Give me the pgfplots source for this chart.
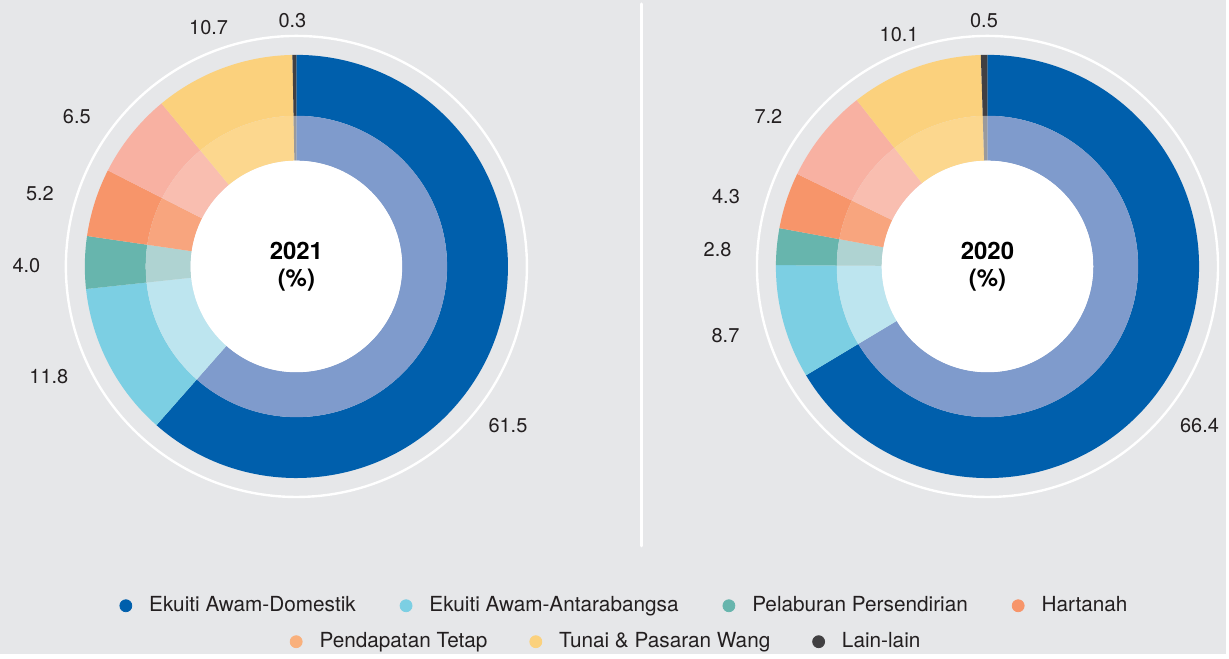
\documentclass[border=0pt]{standalone}
\usepackage{fontspec}
\setmainfont{TeX Gyre Heros}
\usepackage{pgfplots}
\usepackage{pgfplotstable}
\pgfplotsset{compat=1.18}

\definecolor{bg}{HTML}{E6E7E9}
\definecolor{cA}{HTML}{005FAC}\definecolor{cAi}{HTML}{7F9BCC}
\definecolor{cB}{HTML}{7CCFE3}\definecolor{cBi}{HTML}{BDE5EF}
\definecolor{cC}{HTML}{67B5AD}\definecolor{cCi}{HTML}{AFD3D2}
\definecolor{cD}{HTML}{F7956A}\definecolor{cDi}{HTML}{F8A57E}
\definecolor{cE}{HTML}{F8B1A2}\definecolor{cEi}{HTML}{F9BEB0}
\definecolor{cF}{HTML}{FBD17D}\definecolor{cFi}{HTML}{FCD78E}
\definecolor{cG}{HTML}{414042}\definecolor{cGi}{HTML}{9A9A9C}
\definecolor{lE}{HTML}{F9B07C}
\definecolor{txt}{HTML}{231F20}

% 2021
\pgfplotstableread{
v outer inner
61.5 cA cAi
11.8 cB cBi
4.0 cC cCi
5.2 cD cDi
6.5 cE cEi
10.7 cF cFi
0.3 cG cGi
}\tabA
% 2020
\pgfplotstableread{
v outer inner
66.4 cA cAi
8.7 cB cBi
2.8 cC cCi
4.3 cD cDi
7.2 cE cEi
10.1 cF cFi
0.5 cG cGi
}\tabB

\newcommand\drawdonut[3]{%
  \pgfplotstablegetrowsof{#1}\pgfmathtruncatemacro\nrows{\pgfplotsretval-1}%
  \def\cum{0}%
  \pgfplotsforeachungrouped \i in {0,...,\nrows}{%
    \pgfplotstablegetelem{\i}{v}\of{#1}\let\val\pgfplotsretval
    \pgfplotstablegetelem{\i}{outer}\of{#1}\let\co\pgfplotsretval
    \pgfplotstablegetelem{\i}{inner}\of{#1}\let\ci\pgfplotsretval
    \pgfmathsetmacro\sa{90-3.6*\cum}%
    \pgfmathsetmacro\ea{90-3.6*(\cum+\val)}%
    \pgfmathsetmacro\cum{\cum+\val}%
    \edef\tmp{%
      \noexpand\fill[\co] ([shift={(\sa:75.5pt)}]axis cs:#2,#3) arc[start angle=\sa, end angle=\ea, radius=75.5pt] -- ([shift={(\ea:106pt)}]axis cs:#2,#3) arc[start angle=\ea, end angle=\sa, radius=106pt] -- cycle;
      \noexpand\fill[\ci] ([shift={(\sa:53pt)}]axis cs:#2,#3) arc[start angle=\sa, end angle=\ea, radius=53pt] -- ([shift={(\ea:75.5pt)}]axis cs:#2,#3) arc[start angle=\ea, end angle=\sa, radius=75.5pt] -- cycle;
    }\tmp
  }%
  \fill[white] (axis cs:#2,#3) circle[radius=53pt];
  \draw[white, line width=1.2pt] (axis cs:#2,#3) circle[radius=115.5pt];
}

\pgfplotsset{
  base/.style={width=614.5pt, height=327.5pt, scale only axis, hide axis, clip=false},
  leg/.style={base, xmin=0, xmax=1, ymin=0, ymax=1,
    legend image code/.code={\draw[##1] plot coordinates {(0cm,0cm)}; \path (-3pt,0pt) (9.5pt,0pt);},
    legend style={draw=none, fill=none, font=\fontsize{10.4}{12}\selectfont\color{txt}}},
}

\begin{document}
\begin{tikzpicture}
\begin{axis}[base, xmin=0, xmax=1229, ymin=0, ymax=655]
  \fill[bg] (axis cs:0,0) rectangle (axis cs:1229,655);
  \draw[white, line width=1.5pt, line cap=round] (axis cs:643,651) -- (axis cs:643,108);
  \drawdonut{\tabA}{297}{388}
  \drawdonut{\tabB}{989.5}{388}
  \begin{scope}[every node/.style={font=\fontsize{10}{12}\selectfont, text=txt}]
    \node at (axis cs:209,627) {10.7};
    \node at (axis cs:293,634) {0.3};
    \node at (axis cs:77,538) {6.5};
    \node at (axis cs:40,461) {5.2};
    \node at (axis cs:26.5,389) {4.0};
    \node at (axis cs:49,278) {11.8};
    \node at (axis cs:509,229) {61.5};
    \node at (axis cs:901,620) {10.1};
    \node at (axis cs:986,634) {0.5};
    \node at (axis cs:770,538) {7.2};
    \node at (axis cs:727.5,458) {4.3};
    \node at (axis cs:719,405) {2.8};
    \node at (axis cs:727,319) {8.7};
    \node at (axis cs:1202,229) {66.4};
  \end{scope}
  \node[font=\bfseries\fontsize{12}{13.5}\selectfont, align=center] at (axis cs:297,388) {2021\\(\%)};
  \node[font=\bfseries\fontsize{12}{13.5}\selectfont, align=center] at (axis cs:989.5,388) {2020\\(\%)};
\end{axis}
\begin{axis}[leg, legend columns=4, legend style={at={(0.510,0.0733)}, anchor=center,
    /tikz/every even column/.append style={column sep=20pt}}]
  \addlegendimage{only marks, mark=*, mark size=3pt, color=cA}
  \addlegendentry{Ekuiti Awam-Domestik}
  \addlegendimage{only marks, mark=*, mark size=3pt, color=cB}
  \addlegendentry{Ekuiti Awam-Antarabangsa}
  \addlegendimage{only marks, mark=*, mark size=3pt, color=cC}
  \addlegendentry{Pelaburan Persendirian}
  \addlegendimage{only marks, mark=*, mark size=3pt, color=cD}
  \addlegendentry{Hartanah}
\end{axis}
\begin{axis}[leg, legend columns=3, legend style={at={(0.495,0.0183)}, anchor=center,
    /tikz/every even column/.append style={column sep=19pt}}]
  \addlegendimage{only marks, mark=*, mark size=3pt, color=lE}
  \addlegendentry{Pendapatan Tetap}
  \addlegendimage{only marks, mark=*, mark size=3pt, color=cF}
  \addlegendentry{Tunai \& Pasaran Wang}
  \addlegendimage{only marks, mark=*, mark size=3pt, color=cG}
  \addlegendentry{Lain-lain}
\end{axis}
\end{tikzpicture}
\end{document}
